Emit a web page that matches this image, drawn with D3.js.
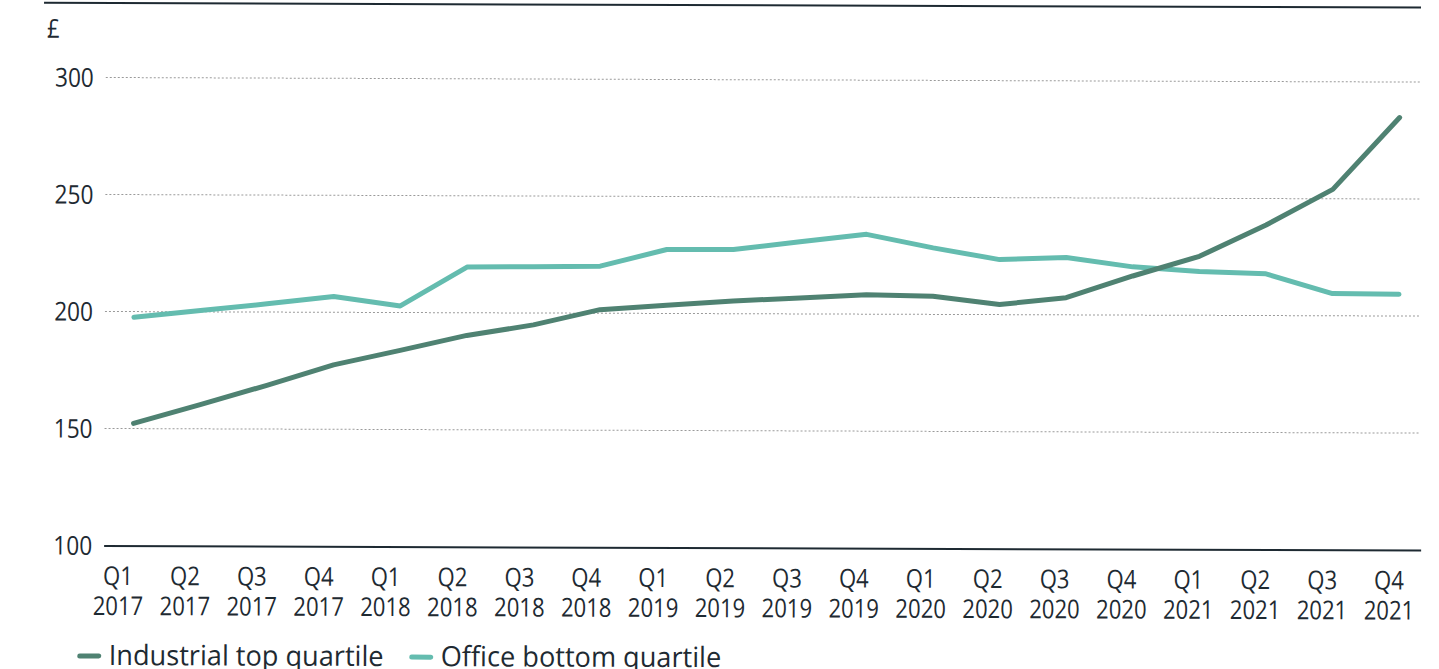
<!DOCTYPE html>
<html>
<head>
<meta charset="utf-8">
<script src="https://cdn.jsdelivr.net/npm/d3@7/dist/d3.min.js"></script>
<style>
  html, body { margin: 0; padding: 0; background: #ffffff; }
  svg { display: block; }
  text { font-family: "Open Sans", "Noto Sans", sans-serif; fill: #1e2a32; }
</style>
</head>
<body>
<svg id="chart" width="1439" height="669"></svg>
<script>
// Quarterly categories (two-line labels)
const quarters = ["Q1","Q2","Q3","Q4","Q1","Q2","Q3","Q4","Q1","Q2","Q3","Q4","Q1","Q2","Q3","Q4","Q1","Q2","Q3","Q4"];
const years = ["2017","2017","2017","2017","2018","2018","2018","2018","2019","2019","2019","2019","2020","2020","2020","2020","2021","2021","2021","2021"];
const categories = quarters.map((q, i) => q + " " + years[i]);

// Rent, £ per sq ft
const industrialTop = [152, 160.1, 168.5, 177.3, 183.6, 190.1, 194.7, 201.3, 203.3, 205.2, 206.6, 208.1, 207.5, 204.1, 207.1, 216.5, 225, 238.5, 253.8, 284.6];
const officeBottom  = [197.4, 200.4, 203.3, 206.5, 202.6, 219.3, 219.6, 219.9, 227.1, 227.2, 230.6, 233.9, 228.2, 223.3, 224.3, 220.4, 218.5, 217.6, 209.3, 209.1];

const yTicks = [100, 150, 200, 250, 300];
const seriesNames = ["Industrial top quartile", "Office bottom quartile"];
const seriesColors = ["#4f8272", "#64bcaf"];

const svg = d3.select("#chart");
const root = svg.append("g").attr("transform", "rotate(0.2, 105, 300)");

const y = d3.scaleLinear().domain([100, 300]).range([545, 77]);
const x = d3.scalePoint().domain(categories).range([134, 1399]);
const xLab = d3.scalePoint().domain(categories).range([119, 1390]);

function label(parent, px, py, str, anchor, size, sx) {
  parent.append("g")
    .attr("transform", `translate(${px},${py}) scale(${sx},1)`)
    .append("text")
    .attr("text-anchor", anchor)
    .attr("font-size", size)
    .text(str);
}

// top rule
root.append("line")
  .attr("x1", 43).attr("x2", 1420).attr("y1", 3).attr("y2", 3)
  .attr("stroke", "#1e2a32").attr("stroke-width", 2);

// currency unit
label(root, 46, 38, "£", "start", 26, 0.85);

// gridlines and y tick labels
const yAxis = d3.axisLeft(y).tickValues(yTicks).tickSize(0).tickFormat(d3.format("d"));
const yg = root.append("g").attr("transform", "translate(105,0)").call(yAxis);
yg.select(".domain").remove();
yg.selectAll(".tick text").remove();
yg.selectAll(".tick").each(function(d) {
  const t = d3.select(this);
  if (d !== 100) {
    t.append("line").attr("x1", 0).attr("x2", 1315)
      .attr("stroke", "#9a9a9a").attr("stroke-width", 1)
      .attr("stroke-dasharray", "2,2");
  }
  label(t, -12, 9.3, String(d), "end", 26, 0.87);
});

// baseline
root.append("line")
  .attr("x1", 105).attr("x2", 1422).attr("y1", y(100) + 1).attr("y2", y(100) + 1)
  .attr("stroke", "#1e2a32").attr("stroke-width", 2);

// x tick labels
const xg = root.append("g");
categories.forEach((c, i) => {
  label(xg, xLab(c), 585, quarters[i], "middle", 26, 0.85);
  label(xg, xLab(c), 615, years[i], "middle", 26, 0.85);
});

// lines (office first so industrial sits on top)
const line = d3.line().x((d, i) => x(categories[i])).y(d => y(d));
[officeBottom, industrialTop].forEach((vals, k) => {
  root.append("path")
    .datum(vals)
    .attr("d", line)
    .attr("fill", "none")
    .attr("stroke", seriesColors[1 - k])
    .attr("stroke-width", 5)
    .attr("stroke-linejoin", "round")
    .attr("stroke-linecap", "round");
});

// legend
const legendX = [79, 411];
seriesNames.forEach((name, k) => {
  root.append("line")
    .attr("x1", legendX[k] + 2).attr("x2", legendX[k] + 21)
    .attr("y1", 656).attr("y2", 656)
    .attr("stroke", seriesColors[k]).attr("stroke-width", 5)
    .attr("stroke-linecap", "round");
  label(root, legendX[k] + 31, 665, name, "start", 28, 0.97);
});
</script>
</body>
</html>
